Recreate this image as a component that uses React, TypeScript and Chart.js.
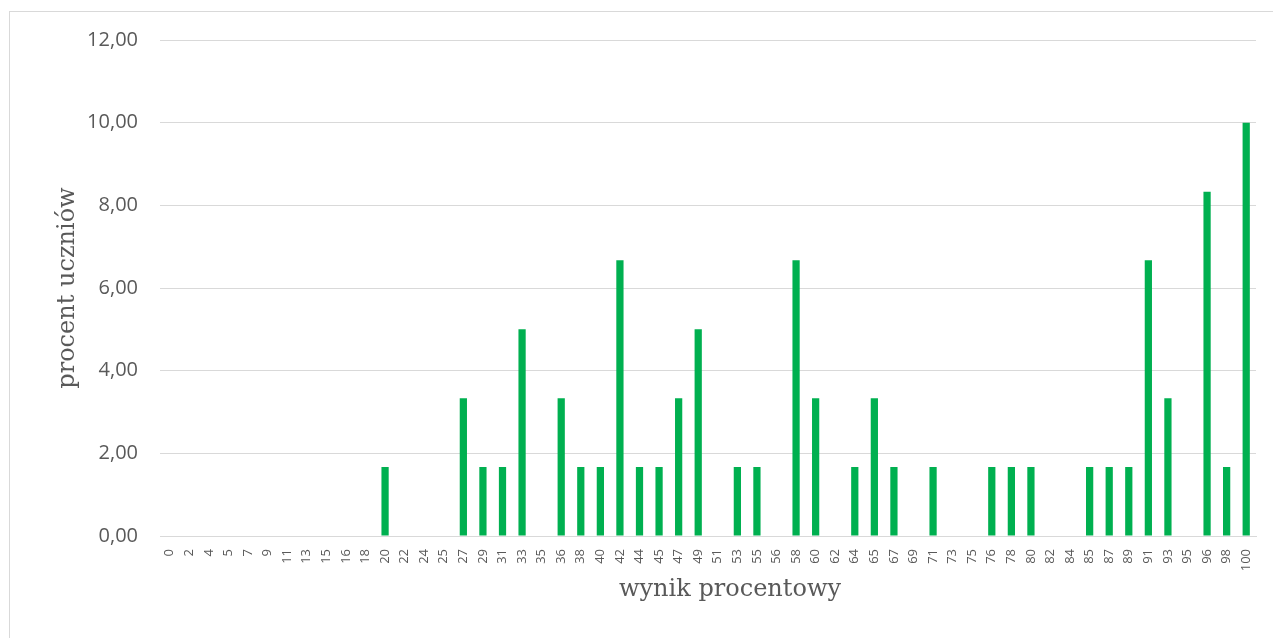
import React, { useEffect, useRef } from "react";
import { Chart, registerables } from "chart.js";

Chart.register(...registerables);

const categories: string[] = [
  "0", "2", "4", "5", "7", "9", "11", "13", "15", "16",
  "18", "20", "22", "24", "25", "27", "29", "31", "33", "35",
  "36", "38", "40", "42", "44", "45", "47", "49", "51", "53",
  "55", "56", "58", "60", "62", "64", "65", "67", "69", "71",
  "73", "75", "76", "78", "80", "82", "84", "85", "87", "89",
  "91", "93", "95", "96", "98", "100",
];

const percentValues: number[] = [
  0, 0, 0, 0, 0, 0, 0, 0, 0, 0,
  0, 1.67, 0, 0, 0, 3.33, 1.67, 1.67, 5.0, 0,
  3.33, 1.67, 1.67, 6.67, 1.67, 1.67, 3.33, 5.0, 0, 1.67,
  1.67, 0, 6.67, 3.33, 0, 1.67, 3.33, 1.67, 0, 1.67,
  0, 0, 1.67, 1.67, 1.67, 0, 0, 1.67, 1.67, 1.67,
  6.67, 3.33, 0, 8.33, 1.67, 10.0,
];

const yTicks: number[] = [0, 2, 4, 6, 8, 10, 12];

const yTitle = "procent uczniów";
const xTitle = "wynik procentowy";

const titleFont = "24px 'DejaVu Serif', serif";
const titleColor = "#595959";

const xTitlePlugin = {
  id: "xTitlePlugin",
  afterDraw(chart: any) {
    const { ctx, chartArea } = chart;
    ctx.save();
    ctx.font = titleFont;
    ctx.fillStyle = titleColor;
    ctx.textAlign = "center";
    ctx.textBaseline = "middle";
    const cx = (chartArea.left + chartArea.right) / 2 + 22;
    ctx.fillText(xTitle, cx, chartArea.bottom + 54);
    ctx.restore();
  },
};

export default function App() {
  const ref = useRef<HTMLCanvasElement | null>(null);

  useEffect(() => {
    if (!ref.current) return;
    const chart = new Chart(ref.current, {
      type: "bar",
      data: {
        labels: categories,
        datasets: [
          {
            data: percentValues,
            backgroundColor: "#00B050",
            borderWidth: 0,
            barPercentage: 0.37,
            categoryPercentage: 1,
          },
        ],
      },
      plugins: [xTitlePlugin],
      options: {
        animation: false,
        responsive: false,
        maintainAspectRatio: false,
        layout: { padding: { left: 0, right: 17, top: 40, bottom: 0 } },
        plugins: {
          legend: { display: false },
          tooltip: { enabled: false },
        },
        scales: {
          x: {
            grid: { display: false },
            border: { display: true, color: "#d9d9d9", width: 1 },
            ticks: {
              autoSkip: false,
              maxRotation: 90,
              minRotation: 90,
              padding: 5,
              color: "#595959",
              font: { family: "'Open Sans', sans-serif", size: 13 },
            },
            title: { display: false },
            afterFit: (scale: any) => {
              scale.height = 102;
            },
          },
          y: {
            min: 0,
            max: 12,
            afterBuildTicks: (scale: any) => {
              scale.ticks = yTicks.map((v) => ({ value: v }));
            },
            grid: { color: "#d9d9d9", drawTicks: false, lineWidth: 1 },
            border: { display: false },
            ticks: {
              padding: 22,
              color: "#595959",
              font: { family: "'Open Sans', sans-serif", size: 20 },
              callback: (v: any) => Number(v).toFixed(2).replace(".", ","),
            },
            title: {
              display: true,
              text: yTitle,
              color: titleColor,
              font: { family: "'DejaVu Serif', serif", size: 24 },
              padding: { top: 53, bottom: 0 },
            },
            afterFit: (scale: any) => {
              scale.width = 160;
            },
          },
        },
      },
    });
    return () => chart.destroy();
  }, []);

  return (
    <div style={{ position: "absolute", left: 0, top: 0, width: 1273, height: 638, background: "#fff", overflow: "hidden" }}>
      <div
        style={{
          position: "absolute",
          left: 9,
          top: 11,
          width: 1400,
          height: 800,
          border: "1px solid #d9d9d9",
          boxSizing: "border-box",
        }}
      />
      <canvas ref={ref} width={1273} height={638} style={{ position: "absolute", left: 0, top: 0, display: "block" }} />
    </div>
  );
}
